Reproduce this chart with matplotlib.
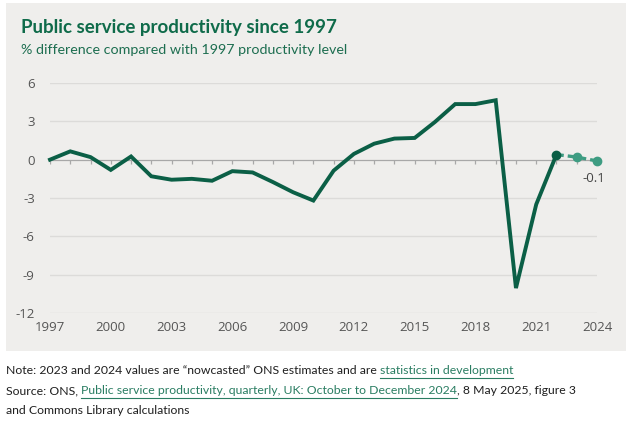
import matplotlib
matplotlib.use("Agg")
import matplotlib.pyplot as plt
from matplotlib.patches import Rectangle
from matplotlib.lines import Line2D

years = list(range(1997, 2023))
values = [0.0, 0.65, 0.2, -0.8, 0.25, -1.3, -1.57, -1.5, -1.65, -0.9, -1.0,
          -1.75, -2.55, -3.2, -0.86, 0.45, 1.25, 1.65, 1.7, 2.95, 4.35, 4.35,
          4.65, -10.05, -3.5, 0.4]
nowcast_years = [2022, 2023, 2024]
nowcast_values = [0.4, 0.2, -0.1]
yticks = [-12, -9, -6, -3, 0, 3, 6]
xticks = [1997, 2000, 2003, 2006, 2009, 2012, 2015, 2018, 2021, 2024]

DARK = "#0b5f46"
TEAL = "#3e9c82"
BG = "#efeeec"
FONT = ["Lato", "DejaVu Sans"]
TICKFONT = ["Open Sans", "DejaVu Sans"]

fig = plt.figure(figsize=(6.34, 4.29), dpi=100)
fig.patch.set_facecolor("white")
bgrect = Rectangle((6/634, 1-351/429), 620/634, 348/429,
                   transform=fig.transFigure, facecolor=BG,
                   edgecolor="none", zorder=-5)
fig.add_artist(bgrect)

ax = fig.add_axes([50/634, 1-313/429, 547/634, 230/429])
ax.set_zorder(2)
ax.patch.set_visible(False)
ax.set_xlim(1997, 2024)
ax.set_ylim(-12, 6)
for s in ax.spines.values():
    s.set_visible(False)

for t in yticks:
    if t == 0:
        continue
    ax.axhline(t, color="#dcdbd9", lw=1.0, zorder=1)
ax.axhline(0, color="#a8a8a8", lw=0.9, zorder=2)
# small ticks under the zero line at every year
all_years = list(range(1997, 2025))
ax.vlines(all_years, -0.35, 0, color="#a8a8a8", lw=0.9, zorder=2)

ax.plot(years, values, color=DARK, lw=2.8, solid_joinstyle="miter", zorder=4,
        clip_on=False)
ax.plot(nowcast_years, nowcast_values, color=TEAL, lw=2.4, ls=(0, (2.2, 1.2)),
        zorder=3, clip_on=False)
ax.plot(nowcast_years[1:], nowcast_values[1:], "o", color=TEAL, ms=6, zorder=5,
        clip_on=False)
ax.plot(nowcast_years[:1], nowcast_values[:1], "o", color=DARK, ms=6, zorder=6,
        clip_on=False)
ax.annotate("-0.1", (nowcast_years[-1], nowcast_values[-1]), xytext=(-2, -13),
            textcoords="offset points", ha="center", va="center",
            fontsize=9.5, color="#444444", family=TICKFONT)

ax.set_yticks(yticks)
ax.set_yticklabels([str(t) for t in yticks], family=TICKFONT)
ax.set_xticks(xticks)
ax.set_xticklabels([str(t) for t in xticks], family=TICKFONT)
ax.tick_params(axis="y", length=0, pad=11, labelsize=9.5, labelcolor="#555555")
ax.tick_params(axis="x", length=0, pad=6, labelsize=9.5, labelcolor="#555555")

fig.text(21/634, 1-27/429, "Public service productivity since 1997",
         fontsize=13.5, fontweight="bold", color="#0f6b4a", family=FONT,
         va="center", ha="left")
fig.text(21/634, 1-50/429, "% difference compared with 1997 productivity level",
         fontsize=10.3, color="#1d6e50", family=FONT, va="center", ha="left")

NOTE_COLOR = "#1f1f1f"
LINK = "#2a7d62"
fs = 8.8
lines = [
    [("Note: 2023 and 2024 values are \u201cnowcasted\u201d ONS estimates and are ", NOTE_COLOR, False),
     ("statistics in development", LINK, True)],
    [("Source: ONS, ", NOTE_COLOR, False),
     ("Public service productivity, quarterly, UK: October to December 2024", LINK, True),
     (", 8 May 2025, figure 3", NOTE_COLOR, False)],
    [("and Commons Library calculations", NOTE_COLOR, False)],
]
ys = [371, 391, 410]
fig.canvas.draw()
renderer = fig.canvas.get_renderer()
for segs, ypx in zip(lines, ys):
    x = 6 / 634
    for txt, col, ul in segs:
        t = fig.text(x, 1 - ypx/429, txt, fontsize=fs, color=col, family=FONT,
                     va="center", ha="left")
        bb = t.get_window_extent(renderer=renderer).transformed(fig.transFigure.inverted())
        if ul:
            yline = 1 - (ypx + 6.5)/429
            fig.lines.append(Line2D([bb.x0, bb.x1], [yline, yline],
                                    transform=fig.transFigure, color=col, lw=0.8))
        x = bb.x1

fig.savefig("out.png", dpi=100, facecolor=fig.get_facecolor())
